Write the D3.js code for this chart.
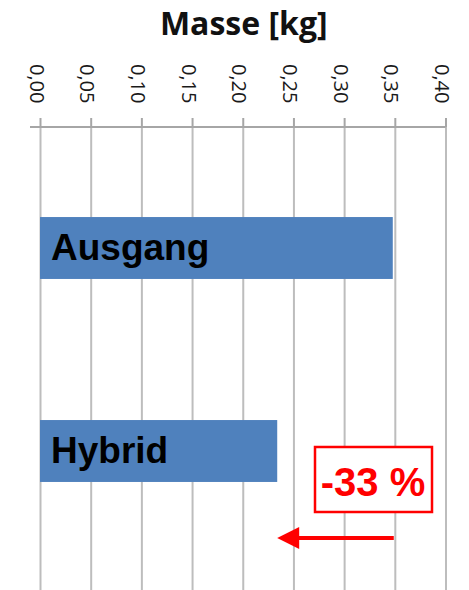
<!DOCTYPE html>
<html>
<head>
<meta charset="utf-8">
<script src="https://cdn.jsdelivr.net/npm/d3@7"></script>
<style>
  body { margin: 0; background: #fff; }
  svg { display: block; }
</style>
</head>
<body>
<svg width="469" height="590"></svg>
<script>
"use strict";
const categories = ["Ausgang", "Hybrid"];
const masses = [0.348, 0.234];
const tickValues = [0, 0.05, 0.10, 0.15, 0.20, 0.25, 0.30, 0.35, 0.40];
const title = "Masse [kg]";

const svg = d3.select("svg");
const de = d3.formatLocale({ decimal: ",", thousands: ".", grouping: [3], currency: ["", " €"] });
const fmt = de.format(".2f");

const x = d3.scaleLinear()
    .domain([0, 0.4])
    .range([40, 445.5]);
const y = d3.scaleBand()
    .domain(categories)
    .range([146.5, 552.5])
    .paddingInner(0.695)
    .paddingOuter(0.3475);
const axisY = 127;

// gridlines
svg.append("g")
    .attr("class", "grid")
    .attr("transform", `translate(0, ${axisY})`)
    .call(d3.axisBottom(x).tickValues(tickValues).tickSize(470).tickFormat(""))
    .call(g => g.select(".domain").remove())
    .call(g => g.selectAll("line").attr("stroke", "#bdbdbd").attr("stroke-width", 2));

// top axis with ticks
const axis = svg.append("g")
    .attr("transform", `translate(0, ${axisY})`)
    .call(d3.axisTop(x).tickValues(tickValues).tickSize(9).tickFormat(""))
    .call(g => g.select(".domain").remove());
axis.selectAll("line").attr("stroke", "#a6a6a6").attr("stroke-width", 2);
svg.append("line")
    .attr("x1", x.range()[0] - 10)
    .attr("x2", x.range()[1])
    .attr("y1", axisY)
    .attr("y2", axisY)
    .attr("stroke", "#a6a6a6")
    .attr("stroke-width", 2);

// rotated tick labels
svg.append("g")
    .selectAll("text")
    .data(tickValues)
    .enter()
    .append("text")
    .attr("transform", d => `translate(${x(d) - 3}, 64) rotate(90)`)
    .attr("dominant-baseline", "central")
    .style("font-family", "'Open Sans', sans-serif")
    .style("font-size", "20px")
    .style("fill", "#1a1a1a")
    .text(d => fmt(d));

// title
svg.append("text")
    .attr("x", (x.range()[0] + x.range()[1]) / 2 + 1)
    .attr("y", 35)
    .attr("text-anchor", "middle")
    .style("font-family", "'Open Sans', sans-serif")
    .style("font-weight", "bold")
    .style("font-size", "32px")
    .style("fill", "#111")
    .text(title);

// bars
svg.append("g")
    .selectAll("rect")
    .data(categories)
    .enter()
    .append("rect")
    .attr("x", x(0))
    .attr("y", d => y(d))
    .attr("width", (d, i) => x(masses[i]) - x(0))
    .attr("height", y.bandwidth())
    .attr("fill", "#4f81bd");

svg.append("g")
    .selectAll("text")
    .data(categories)
    .enter()
    .append("text")
    .attr("x", x(0) + 11)
    .attr("y", d => y(d) + y.bandwidth() / 2 + 12)
    .style("font-family", "'Liberation Sans', Arial, sans-serif")
    .style("font-weight", "bold")
    .style("font-size", "37px")
    .style("fill", "#000")
    .text(d => d);

// reduction arrow and label
const red = "#ff0000";
const arrowY = 538;
const x0 = x(masses[0]) + 1;
const x1 = x(masses[1]);
svg.append("line")
    .attr("x1", x0)
    .attr("x2", x1 + 20)
    .attr("y1", arrowY)
    .attr("y2", arrowY)
    .attr("stroke", red)
    .attr("stroke-width", 4);
svg.append("path")
    .attr("d", `M${x1},${arrowY} L${x1 + 22},${arrowY - 11} L${x1 + 22},${arrowY + 11} Z`)
    .attr("fill", red);

const pct = Math.round((masses[1] / masses[0] - 1) * 100);
svg.append("rect")
    .attr("x", 315)
    .attr("y", 447)
    .attr("width", 117)
    .attr("height", 65)
    .attr("fill", "#fff")
    .attr("stroke", red)
    .attr("stroke-width", 2.5);
svg.append("text")
    .attr("x", 373)
    .attr("y", 496)
    .attr("text-anchor", "middle")
    .style("font-family", "'Liberation Sans', Arial, sans-serif")
    .style("font-weight", "bold")
    .style("font-size", "40px")
    .style("fill", red)
    .text(`${pct} %`);
</script>
</body>
</html>
